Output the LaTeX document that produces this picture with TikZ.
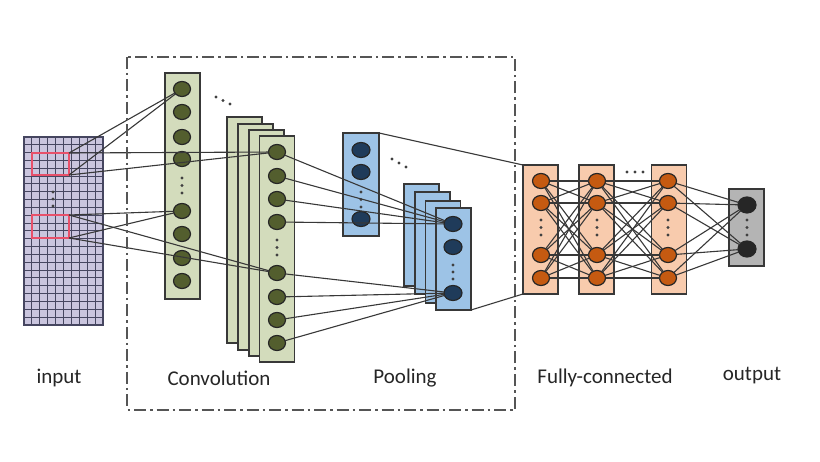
\documentclass[tikz,border=0pt]{standalone}
\usepackage{fontspec}
\setmainfont{Carlito}
\usetikzlibrary{shapes.geometric}
\pgfdeclarelayer{bg}
\pgfdeclarelayer{boxes}
\pgfsetlayers{bg,boxes,main}
\definecolor{gridfill}{HTML}{CAC5DE}
\definecolor{gridline}{HTML}{464660}
\definecolor{convfill}{HTML}{D3DCBC}
\definecolor{convdot}{HTML}{535E2E}
\definecolor{poolfill}{HTML}{9DC3E6}
\definecolor{pooldot}{HTML}{1F3B5A}
\definecolor{fcfill}{HTML}{F8CBAD}
\definecolor{fcdot}{HTML}{C55A11}
\definecolor{outfill}{HTML}{B4B4B4}
\definecolor{outdot}{HTML}{262626}
\definecolor{edgecol}{HTML}{383838}
\definecolor{redbox}{HTML}{E8506A}
\definecolor{framecol}{HTML}{555555}
\tikzset{
  box/.style={draw=edgecol, line width=1.2pt, inner sep=0pt, outer sep=0pt},
  convbox/.style={box, fill=convfill, minimum width=35pt, minimum height=226pt},
  poolbox/.style={box, fill=poolfill, minimum width=35pt, minimum height=102pt},
  fcbox/.style={box, fill=fcfill, minimum width=35pt, minimum height=129pt},
  outbox/.style={box, fill=outfill, minimum width=35pt, minimum height=77pt},
  neuron/.style={ellipse, draw=black!85, line width=1.2pt, minimum width=17pt, minimum height=15pt, inner sep=0pt, outer sep=0pt},
  cn/.style={neuron, fill=convdot},
  pn/.style={neuron, fill=pooldot, minimum width=18pt},
  fn/.style={neuron, fill=fcdot},
  on/.style={neuron, fill=outdot, minimum width=18pt, minimum height=16pt},
  link/.style={draw=edgecol, line width=1.1pt},
  lbl/.style={text=black!85, font=\fontsize{21pt}{25pt}\selectfont, inner sep=0pt},
  dotfill/.style={fill=black!75},
}
\begin{document}
\begin{tikzpicture}[x=1pt,y=-1pt]
\useasboundingbox (0,0) rectangle (820,462);
\begin{pgfonlayer}{bg}
  \fill[white] (0,0) rectangle (820,462);
\end{pgfonlayer}

% ---------- boxes ----------
\begin{pgfonlayer}{boxes}
  % input grid
  \node[box, draw=gridline, fill=gridfill, minimum width=79pt, minimum height=188pt] (inp) at (63.5,231) {};
  \foreach \i in {1,...,9} \draw[gridline, line width=1pt] ({24+\i*7.9},137) -- ({24+\i*7.9},325);
  \foreach \j in {1,...,23} \draw[gridline, line width=1pt] (24,{137+\j*7.8333}) -- (103,{137+\j*7.8333});
  \node[box, draw=redbox, minimum width=37pt, minimum height=22pt] (r1) at (50.5,164) {};
  \node[box, draw=redbox, minimum width=37pt, minimum height=23pt] (r2) at (50.5,226.5) {};
  % convolution
  \node[convbox] (c1) at (182.5,186) {};
  \node[convbox] (cs1) at (244.5,230) {};
  \node[convbox] (cs2) at (255.5,237) {};
  \node[convbox] (cs3) at (266.5,243) {};
  \node[convbox] (cs4) at (277,249) {};
  % pooling
  \node[poolbox, minimum width=36pt, minimum height=103pt] (p1) at (361,184.5) {};
  \node[poolbox] (ps1) at (421.5,235) {};
  \node[poolbox] (ps2) at (432.5,243) {};
  \node[poolbox] (ps3) at (443,252) {};
  \node[poolbox] (ps4) at (453.5,259) {};
  % fully connected
  \node[fcbox] (fc1) at (540.5,229.5) {};
  \node[fcbox] (fc2) at (596.5,229.5) {};
  \node[fcbox] (fc3) at (669,229.5) {};
  \node[outbox] (out) at (746.5,227.5) {};
\end{pgfonlayer}

% ---------- neurons ----------
\foreach \y [count=\k] in {89,112,137,159,211,234,258,281}
  \node[cn] (a\k) at (182,\y) {};
\foreach \y [count=\k] in {152,176,199,222,273,297,320,343}
  \node[cn] (b\k) at (277,\y) {};
\foreach \y [count=\k] in {150,172,219}
  \node[pn] (q\k) at (361,\y) {};
\foreach \y [count=\k] in {224,247,293}
  \node[pn] (s\k) at (453,\y) {};
\foreach \x/\n in {541/u,597/v,668/w}
  \foreach \y [count=\k] in {181,203,255,278}
    \node[fn] (\n\k) at (\x,\y) {};
\foreach \y [count=\k] in {205,249}
  \node[on] (o\k) at (747,\y) {};

% ---------- dots ----------
\foreach \p in {(53,192),(53,199),(53,206),
                (182,178),(182,185.5),(182,193),
                (277,240),(277,247.5),(277,255),
                (361,192),(361,199.5),(361,207),
                (453,265),(453,272),(453,279),
                (541,220),(541,227.5),(541,235),
                (597,220),(597,227.5),(597,235),
                (668,220),(668,227.5),(668,235),
                (747,220),(747,227.5),(747,235),
                (216,97),(223,100.5),(230,104),
                (392,159),(399,163),(406,167),
                (627,172),(635,172),(643,172)}
  \fill[dotfill] \p circle (1.7pt);

% ---------- links ----------
\foreach \c in {north east, south east} {
  \draw[link] (r1.\c) -- (a1);
  \draw[link] (r1.\c) -- (b1);
  \draw[link] (r2.\c) -- (a5);
  \draw[link] (r2.\c) -- (b5);
}
\foreach \k in {1,2,3,4} \draw[link] (b\k) -- (s1);
\foreach \k in {5,6,7,8} \draw[link] (b\k) -- (s3);
\draw[link] (p1.north east) -- (fc1.north west);
\draw[link] (ps4.south east) -- (fc1.south west);
\foreach \i in {1,2,3,4}
  \foreach \j in {1,2,3,4} {
    \draw[link] (u\i) -- (v\j);
    \draw[link] (v\i) -- (w\j);
  }
\foreach \i in {1,2,3,4}
  \foreach \j in {1,2} \draw[link] (w\i) -- (o\j);

% ---------- frame ----------
\draw[framecol, line width=1.3pt, dash pattern=on 12pt off 4pt on 2.5pt off 4pt] (127,57) rectangle (515,410);

% ---------- labels ----------
\node[lbl] (t1) at (59,378) {input};
\node[lbl] (t2) at (219,378) {Convolution};
\node[lbl] (t3) at (405,378) {Pooling};
\node[lbl] (t4) at (605,378) {Fully-connected};
\node[lbl] (t5) at (752,376) {output};
\end{tikzpicture}
\end{document}
